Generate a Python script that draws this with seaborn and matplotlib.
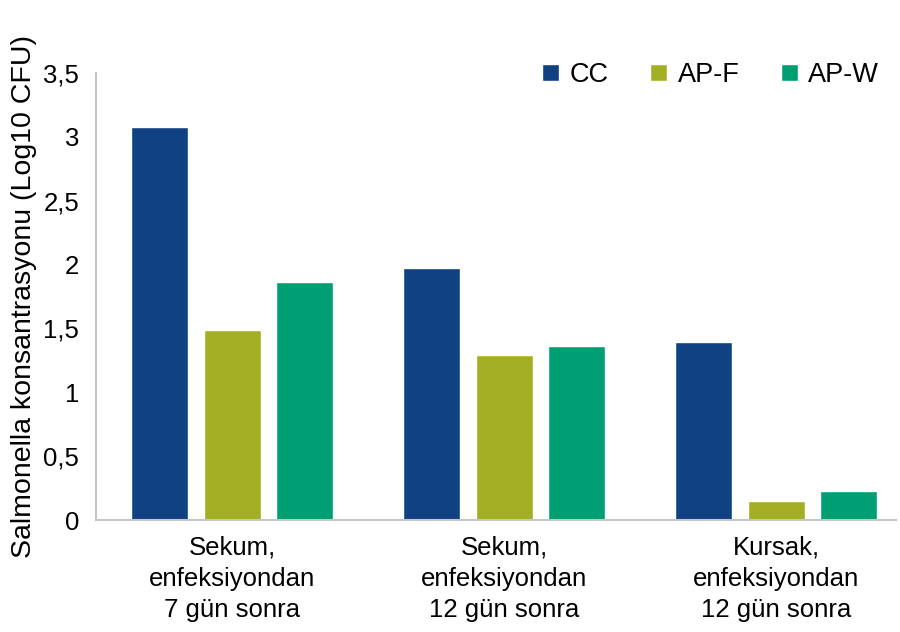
import pandas as pd
import seaborn as sns
import matplotlib.pyplot as plt

# Data
groups = ['Sekum,\nenfeksiyondan\n7 gün sonra',
          'Sekum,\nenfeksiyondan\n12 gün sonra',
          'Kursak,\nenfeksiyondan\n12 gün sonra']
series = ['CC', 'AP-F', 'AP-W']
cc = [3.08, 1.97, 1.39]
ap_f = [1.49, 1.29, 0.15]
ap_w = [1.86, 1.36, 0.23]
ytick_vals = [0, 0.5, 1, 1.5, 2, 2.5, 3, 3.5]
ytick_labels = ['0', '0,5', '1', '1,5', '2', '2,5', '3', '3,5']
colors = ['#104182', '#a3af22', '#009e73']

# Long form table for seaborn
rows = []
for name, vals in zip(series, [cc, ap_f, ap_w]):
    for g, v in zip(groups, vals):
        rows.append({'Grup': g, 'Seri': name, 'Deger': v})
df = pd.DataFrame(rows)

sns.set_style('white')
plt.rcParams['font.family'] = ['Liberation Sans', 'DejaVu Sans']
# black text like the original
plt.rcParams['text.color'] = 'black'
plt.rcParams['axes.labelcolor'] = 'black'
plt.rcParams['xtick.color'] = 'black'
plt.rcParams['ytick.color'] = 'black'

fig = plt.figure(figsize=(9, 6.32), dpi=100)
ax = fig.add_axes([0.1067, 0.1772, 0.8889, 0.7073])

sns.barplot(data=df, x='Grup', y='Deger', hue='Seri', hue_order=series,
            order=groups, palette=colors, saturation=1, width=0.8, gap=0.214,
            ax=ax)

ax.set_xlim(-0.5, 2.44)
ax.set_ylim(0, 3.5)
ax.set_yticks(ytick_vals)
ax.set_yticklabels(ytick_labels)
ax.set_xlabel('')
ax.set_ylabel('Salmonella konsantrasyonu (Log10 CFU)', fontsize=20.5, labelpad=5)
ax.tick_params(axis='y', labelsize=18.5, length=0, pad=12)
ax.tick_params(axis='x', labelsize=18.5, length=0, pad=11)
for lbl in ax.get_xticklabels():
    lbl.set_linespacing(1.38)

# Axis lines in light gray, no frame on top/right
for side in ['top', 'right']:
    ax.spines[side].set_visible(False)
for side in ['left', 'bottom']:
    ax.spines[side].set_color('#c6c6c6')
    ax.spines[side].set_linewidth(1.5)

ax.legend(loc='center right', bbox_to_anchor=(0.977, 1 - 75 / 632),
          bbox_transform=fig.transFigure, ncol=3, frameon=False,
          fontsize=19.5, handlelength=0.6, handleheight=0.6,
          handletextpad=0.4, columnspacing=1.55, borderpad=0, borderaxespad=0)

fig.savefig('out.png', dpi=100)
